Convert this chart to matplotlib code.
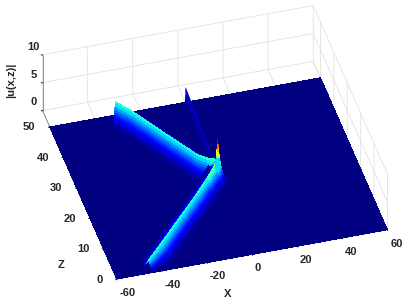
import numpy as np
import matplotlib
matplotlib.use("Agg")
import matplotlib.pyplot as plt

plt.rcParams['font.family'] = ['Liberation Sans', 'DejaVu Sans']

x_ticks = [-60, -40, -20, 0, 20, 40, 60]
z_ticks = [0, 10, 20, 30, 40, 50]
u_ticks = [0, 5, 10]
plane_x = [-60, 60]
plane_z = [0, 50]

# ridge centre lines (x, z, amplitude)
upper_x = [-31.0, -26.0, -21.5, -17.0, -12.8, -9.5, -7.0, -3.5, 0.0]
upper_z = [50.0, 46.4, 42.5, 38.5, 34.8, 32.0, 29.7, 27.8, 26.5]
upper_u = [2.4, 2.4, 2.35, 2.3, 2.3, 2.3, 2.3, 2.4, 2.6]
lower_x = [-45.6, -36.0, -26.8, -20.0, -13.7, -7.0, -1.7, 0.5]
lower_z = [0.0, 5.3, 10.5, 14.2, 17.7, 21.5, 24.4, 26.0]
lower_u = [2.4, 2.35, 2.3, 2.3, 2.35, 2.5, 3.0, 3.8]
thin_x = [0.0, 0.0]
thin_z = [27.0, 50.0]
thin_u = [1.0, 2.8]
# cross-section of a ridge: offset across the beam, relative height
prof_off = [-7.0, -6.5, -6.0, -5.5, -5.0, -4.5, -4.0, -3.5, -3.0, -2.5, -2.0, -1.5, -1.0, -0.5, 0.0,
            0.5, 1.0, 1.5, 2.0, 2.5, 3.0, 3.5, 4.0, 4.5, 5.0, 5.5, 6.0, 6.5, 7.0]
prof_h = [0.0, 0.02, 0.04, 0.06, 0.09, 0.13, 0.18, 0.24, 0.31, 0.40, 0.50, 0.62, 0.75, 0.90, 1.0,
          0.90, 0.75, 0.62, 0.50, 0.40, 0.31, 0.24, 0.18, 0.13, 0.09, 0.06, 0.04, 0.02, 0.0]
thin_off = [-0.35, -0.15, 0.0, 0.15, 0.35]
thin_h = [0.0, 0.6, 1.0, 0.6, 0.0]
# central spike: radius, height
spike_r = [0.0, 0.1, 0.2, 0.3, 0.45, 0.6, 0.8]
spike_u = [6.2, 5.4, 4.8, 4.2, 3.7, 3.2, 1.0]

VMAX = 6.2
fig = plt.figure(figsize=(4.07, 3.08), dpi=100)
ax = fig.add_axes([0.0147, -0.1405, 1.0, 1.3214], projection='3d', proj_type='ortho', computed_zorder=False)
ax.set_box_aspect((282, 273, 73), zoom=0.95)
ax.view_init(elev=40, azim=-105.8)
ax.set_xlim(-60, 60, view_margin=0)
ax.set_ylim(0, 55.4, view_margin=0)
ax.set_zlim(0, 10, view_margin=0)

jet = matplotlib.colormaps['jet']


def face(vals, scale=1.0):
    v = np.asarray(vals)
    m = (v[:-1, :-1] + v[1:, :-1] + v[:-1, 1:] + v[1:, 1:]) / 4
    return jet(np.clip(m * scale / VMAX, 0, 1))


def ribbon(px, pz, pu, off, h, order, scale=1.0, width=1.0):
    px, pz, pu = map(np.asarray, (px, pz, pu))
    off, h = np.asarray(off) * width, np.asarray(h)
    d = np.gradient(np.c_[px, pz], axis=0)
    d /= np.linalg.norm(d, axis=1, keepdims=True)
    nx, nz = d[:, 1], -d[:, 0]
    X = px[:, None] + nx[:, None] * off[None, :]
    Z = pz[:, None] + nz[:, None] * off[None, :]
    Z = np.clip(Z, 0, 50)
    U = pu[:, None] * h[None, :]
    # paint the strips far side first so the slope facing the viewer lies on top
    for j in range(len(off) - 1):
        s = slice(j, j + 2)
        ax.plot_surface(X[:, s], Z[:, s], U[:, s], facecolors=face(U[:, s], scale), shade=False,
                        linewidth=0, antialiased=False, rstride=1, cstride=1, zorder=order + j * 0.01)


PX, PZ = np.meshgrid(plane_x, plane_z)
ax.plot_surface(PX, PZ, np.zeros_like(PX, dtype=float), color=jet(0.0), shade=False,
                linewidth=0, antialiased=False, zorder=1)
ribbon(thin_x, thin_z, thin_u, thin_off, thin_h, 2, scale=0.3)
ribbon(upper_x, upper_z, upper_u, prof_off, prof_h, 3, scale=1.08, width=0.85)
ribbon(lower_x, lower_z, lower_u, prof_off, prof_h, 4, scale=1.08, width=0.6)

th = np.linspace(0, 2 * np.pi, 9)
R, T = np.meshgrid(spike_r, th)
SU = np.tile(spike_u, (len(th), 1))
ax.plot_surface(0.5 + R * np.cos(T), 26.5 + R * np.sin(T), SU, facecolors=face(SU), shade=False,
                linewidth=0, antialiased=False, zorder=5)

for a in (ax.xaxis, ax.yaxis, ax.zaxis):
    a.set_pane_color((1, 1, 1, 0))
    a.pane.set_edgecolor((1, 1, 1, 0))
    a.line.set_color('#808080')
    a.line.set_linewidth(0.6)
    a._axinfo['grid'].update(color='#e2e2e2', linewidth=0.6)
    a._axinfo['tick'].update(inward_factor=0.06, outward_factor=0.0, linewidth={True: 0.6, False: 0.4}, color='#666666')

lab = dict(fontsize=8, fontweight='bold', color='#262626')
ax.set_xticks(x_ticks)
ax.set_yticks(z_ticks)
ax.set_zticks(u_ticks)
ax.set_xticklabels([str(v) for v in x_ticks], ha='left', **lab)
ax.set_yticklabels([str(v) for v in z_ticks], ha='right', va='bottom', **lab)
ax.set_zticklabels([str(v) for v in u_ticks], va='bottom', **lab)
ax.tick_params(axis='x', pad=-2)
ax.tick_params(axis='y', pad=0)
ax.tick_params(axis='z', pad=-4)
fig.text(228 / 407, 1 - 294 / 308, 'X', ha='center', va='center', **lab)
fig.text(61 / 407, 1 - 265 / 308, 'Z', ha='center', va='center', **lab)
fig.text(11 / 407, 1 - 80 / 308, '|u(x,z)|', ha='center', va='center', rotation=90, **lab)
fig.savefig('out.png', dpi=100)
